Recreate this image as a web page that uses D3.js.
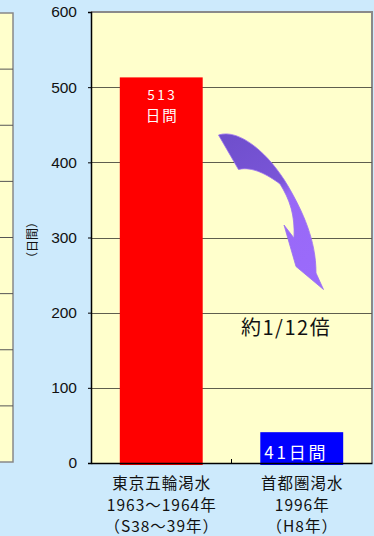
<!DOCTYPE html>
<html>
<head>
<meta charset="utf-8">
<script src="https://cdn.jsdelivr.net/npm/d3@7"></script>
<style>
  html, body { margin: 0; padding: 0; background: #cdeafc; }
  svg { display: block; }
</style>
</head>
<body>
<svg id="chart" width="374" height="536"></svg>
<script>
// Drought periods compared: number of days of water restriction
const categories = ["tokyo", "shutoken"];
const categoryLabels = [
  ["東京五輪渇水", "1963〜1964年", "（S38〜39年）"],
  ["首都圏渇水", "1996年", "（H8年）"]
];
const days = [513, 41];
const barColors = ["#ff0000", "#0000ff"];
const yTicks = [0, 100, 200, 300, 400, 500, 600];
const ratioLabel = "約1/12倍";
const neighbourTicks = [0, 1, 2, 3, 4, 5, 6, 7, 8];

const svg = d3.select("#chart");
const jp = "'Noto Sans CJK JP', 'Noto Sans', sans-serif";
const num = "'Liberation Sans', Arial, sans-serif";

const plot = { left: 91, right: 372, top: 12, bottom: 463 };

const y = d3.scaleLinear().domain([0, 600]).range([plot.bottom, plot.top]);
const x = d3.scaleBand().domain(categories).range([plot.left, plot.right]).padding(0);
const barW = x.bandwidth() * 0.59;

// Edge of the neighbouring panel on the left
const yn = d3.scaleLinear().domain([0, 8]).range([462, 13]);
svg.append("rect").attr("x", -10).attr("y", yn(8)).attr("width", 23).attr("height", yn(0) - yn(8))
  .attr("fill", "#ffffcc").attr("stroke", "#888").attr("stroke-width", 1.5);
svg.append("g").selectAll("line").data(neighbourTicks.slice(1, -1)).join("line")
  .attr("x1", 0).attr("x2", 13).attr("y1", d => yn(d)).attr("y2", d => yn(d))
  .attr("stroke", "#555").attr("stroke-width", 1);

// Plot background with a grey frame on top and right
svg.append("rect").attr("x", plot.left).attr("y", plot.top)
  .attr("width", plot.right - plot.left).attr("height", plot.bottom - plot.top)
  .attr("fill", "#ffffcc");
svg.append("path")
  .attr("d", `M${plot.left},${plot.top}H${plot.right}V${plot.bottom}`)
  .attr("fill", "none").attr("stroke", "#8a8a8a").attr("stroke-width", 2);

// Gridlines
svg.append("g").selectAll("line").data(yTicks.filter(d => d > 0 && d < 600)).join("line")
  .attr("x1", plot.left).attr("x2", plot.right)
  .attr("y1", d => Math.round(y(d)) + 0.5).attr("y2", d => Math.round(y(d)) + 0.5)
  .attr("stroke", "#5e5e4e").attr("stroke-width", 1.2);

// Bars
svg.append("g").selectAll("rect").data(categories).join("rect")
  .attr("x", (d) => x(d) + (x.bandwidth() - barW) / 2)
  .attr("y", (d, i) => y(days[i]))
  .attr("width", barW)
  .attr("height", (d, i) => y(0) - y(days[i]) + 2)
  .attr("fill", (d, i) => barColors[i]);

// Y axis
const yAxis = d3.axisLeft(y).tickValues(yTicks).tickSize(3).tickPadding(11).tickFormat(d3.format("d"));
const ya = svg.append("g").attr("transform", `translate(${plot.left},0)`).call(yAxis);
ya.select(".domain").attr("stroke", "#000").attr("stroke-width", 1.5);
ya.selectAll(".tick line").attr("stroke", "#000");
ya.selectAll(".tick text").attr("font-family", num).attr("font-size", 15.5).attr("fill", "#111");

// X axis
const xa = svg.append("g").attr("transform", `translate(0,${plot.bottom})`)
  .call(d3.axisBottom(x).tickSize(0).tickFormat(""));
xa.select(".domain").attr("stroke", "#000").attr("stroke-width", 1.5);
xa.append("line").attr("x1", x(categories[1])).attr("x2", x(categories[1]))
  .attr("y1", 0).attr("y2", -4).attr("stroke", "#000");

// Category labels
categories.forEach((c, i) => {
  const t = svg.append("text").attr("x", x(c) + x.bandwidth() / 2).attr("text-anchor", "middle")
    .attr("font-family", jp).attr("font-size", 15.5).attr("letter-spacing", 1).attr("fill", "#111");
  categoryLabels[i].forEach((line, k) => {
    t.append("tspan").attr("x", x(c) + x.bandwidth() / 2 + 0.5).attr("y", 489 + k * 21.5).text(line);
  });
});

// Y axis title
svg.append("text").attr("transform", "translate(37,240) rotate(-90)")
  .attr("text-anchor", "middle").attr("font-family", jp).attr("font-size", 12).attr("fill", "#111")
  .text("（日間）");

// Value labels
const cx0 = x(categories[0]) + x.bandwidth() / 2;
svg.append("text").attr("x", cx0 + 1).attr("y", y(days[0]) + 23).attr("text-anchor", "middle")
  .attr("font-family", jp).attr("font-size", 13.5).attr("letter-spacing", 2.5).attr("fill", "#fff")
  .text(String(days[0]));
svg.append("text").attr("x", cx0 + 1).attr("y", y(days[0]) + 44).attr("text-anchor", "middle")
  .attr("font-family", jp).attr("font-size", 14.5).attr("letter-spacing", 2).attr("fill", "#fff")
  .text("日間");
svg.append("text").attr("x", x(categories[1]) + (x.bandwidth() - barW) / 2 + 4).attr("y", y(days[1]) + 27)
  .attr("font-family", jp).attr("font-size", 17).attr("letter-spacing", 2.8).attr("fill", "#fff")
  .text(days[1] + "日間");

// Ratio annotation
svg.append("text").attr("x", 241).attr("y", 335)
  .attr("font-family", jp).attr("font-size", 20).attr("letter-spacing", 1.5).attr("fill", "#111")
  .text(ratioLabel);

// Curved arrow between the two bars
const defs = svg.append("defs");
const grad = defs.append("linearGradient").attr("id", "arrowFill")
  .attr("gradientUnits", "userSpaceOnUse").attr("x1", 220).attr("y1", 140).attr("x2", 320).attr("y2", 290);
grad.append("stop").attr("offset", "0").attr("stop-color", "#6f4fcc");
grad.append("stop").attr("offset", "0.38").attr("stop-color", "#7a55d8");
grad.append("stop").attr("offset", "0.46").attr("stop-color", "#9868f6");
grad.append("stop").attr("offset", "1").attr("stop-color", "#9b6bfc");

const arrowPath = d3.path();
arrowPath.moveTo(218.5, 135);
arrowPath.bezierCurveTo(240, 128, 270, 155, 288, 186);
arrowPath.bezierCurveTo(303, 212, 316, 240, 316, 273);
arrowPath.lineTo(323.5, 289.5);
arrowPath.lineTo(296, 266.5);
arrowPath.lineTo(284, 225);
arrowPath.lineTo(294, 238);
arrowPath.bezierCurveTo(295, 215, 290, 200, 280, 184);
arrowPath.bezierCurveTo(268, 175, 252, 166, 238.5, 169.5);
arrowPath.closePath();
svg.append("path").attr("d", arrowPath.toString()).attr("fill", "url(#arrowFill)")
  .attr("stroke", "#9a70f0").attr("stroke-width", 0.8).attr("stroke-linejoin", "round");
</script>
</body>
</html>
